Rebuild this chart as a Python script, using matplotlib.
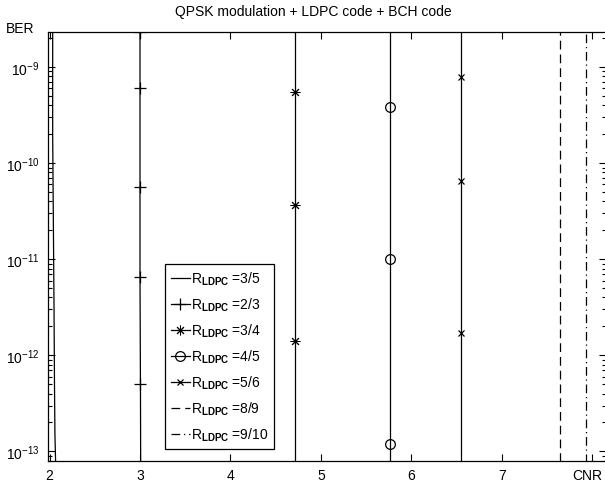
import matplotlib
matplotlib.use('Agg')
import matplotlib.pyplot as plt
import matplotlib.transforms as mtransforms
from matplotlib.ticker import LogLocator, LogFormatterMathtext, NullFormatter

plt.rcParams['font.family'] = ['Liberation Sans', 'DejaVu Sans']
plt.rcParams['mathtext.fontset'] = 'custom'
plt.rcParams['mathtext.rm'] = 'Liberation Sans'
plt.rcParams['mathtext.bf'] = 'Liberation Sans:bold'

# CNR (dB) / BER points of each curve (waterfall, almost vertical)
cnr_35 = [2.035, 2.035, 2.05, 2.055, 2.06, 2.09]
ber_35 = [1e-8, 2e-10, 3e-12, 5e-13, 1.5e-13, 1e-14]

cnr_23 = [3.0, 3.0, 3.0, 3.0, 3.005, 3.01]
ber_23 = [2.3e-9, 6e-10, 5.7e-11, 6.5e-12, 5e-13, 1e-14]

cnr_34 = [4.71, 4.71, 4.71, 4.71, 4.71]
ber_34 = [1e-8, 5.5e-10, 3.7e-11, 1.4e-12, 1e-14]

cnr_45 = [5.76, 5.76, 5.76, 5.76, 5.76]
ber_45 = [1e-8, 3.8e-10, 1.0e-11, 1.2e-13, 1e-14]

cnr_56 = [6.55, 6.55, 6.55, 6.55, 6.55]
ber_56 = [1e-8, 7.8e-10, 6.5e-11, 1.7e-12, 1e-14]

cnr_89 = [7.64, 7.64]
ber_89 = [1e-8, 1e-14]

cnr_910 = [7.93, 7.93]
ber_910 = [1e-8, 1e-14]

rates = ['3/5', '2/3', '3/4', '4/5', '5/6', '8/9', '9/10']
xticks = [2, 3, 4, 5, 6, 7, 8]
xlabels = ['2', '3', '4', '5', '6', '7', 'CNR']
yticks = [1e-13, 1e-12, 1e-11, 1e-10, 1e-9]


def lab(r):
    return r'R$_{\mathbf{LDPC}}$ =' + r


fig = plt.figure(figsize=(6.05, 4.85), dpi=100)
ax = fig.add_axes([47.7 / 605, 1 - 462 / 485, (606 - 47.7) / 605, (462 - 33) / 485])

lw = 0.9
ax.plot(cnr_35, ber_35, 'k-', lw=lw, label=lab(rates[0]))
ax.plot(cnr_23, ber_23, 'k-', marker='+', ms=9, mew=0.9, lw=lw, label=lab(rates[1]))
ax.plot(cnr_34, ber_34, 'k-', marker=(8, 2, 0), ms=7, mew=0.7, lw=lw, label=lab(rates[2]))
ax.plot(cnr_45, ber_45, 'k-', marker='o', ms=7, mfc='none', mew=0.9, lw=lw, label=lab(rates[3]))
ax.plot(cnr_56, ber_56, 'k-', marker='x', ms=5, mew=0.9, lw=lw, label=lab(rates[4]))
ax.plot(cnr_89, ber_89, 'k--', lw=lw, dashes=(7, 4), label=lab(rates[5]))
ax.plot(cnr_910, ber_910, 'k-.', lw=lw, dashes=(7, 3, 1, 3), label=lab(rates[6]))

ax.set_yscale('log')
ax.set_xlim(1.98, 8.15)
ax.set_ylim(10 ** -13.1, 10 ** -8.635)
ax.set_xticks(xticks)
ax.set_xticklabels(xlabels)
ax.set_yticks(yticks)
ax.yaxis.set_major_formatter(LogFormatterMathtext())
ax.yaxis.set_minor_locator(LogLocator(base=10, subs=range(2, 10), numticks=20))
ax.yaxis.set_minor_formatter(NullFormatter())
ax.tick_params(which='both', direction='in', top=True, right=True, labelsize=10, width=0.8)
ax.tick_params(which='major', length=5)
ax.tick_params(which='minor', length=3)
ax.tick_params(axis='y', pad=6)
ax.tick_params(axis='x', pad=5)
for s in ax.spines.values():
    s.set_linewidth(0.9)

# pull the "CNR" label a little to the left so it stays inside the figure
cnr_lbl = ax.get_xticklabels()[-1]
cnr_lbl.set_transform(cnr_lbl.get_transform()
                      + mtransforms.ScaledTranslation(-4 / 72, 0, fig.dpi_scale_trans))

fig.text(313 / 605, 1 - 12 / 485, 'QPSK modulation + LDPC code + BCH code',
         fontsize=10, ha='center', va='center')
fig.text(6 / 605, 1 - 29 / 485, 'BER', fontsize=10, ha='left', va='center')

leg = ax.legend(loc='upper left', bbox_to_anchor=((165 - 47.7) / (606 - 47.7), (462 - 265) / (462 - 33)),
                fontsize=10, handlelength=1.4, handletextpad=0.1, borderpad=0.4,
                labelspacing=0.62, fancybox=False, framealpha=1, edgecolor='k', borderaxespad=0)
leg.get_frame().set_linewidth(0.9)

fig.savefig('out.png', dpi=100)
